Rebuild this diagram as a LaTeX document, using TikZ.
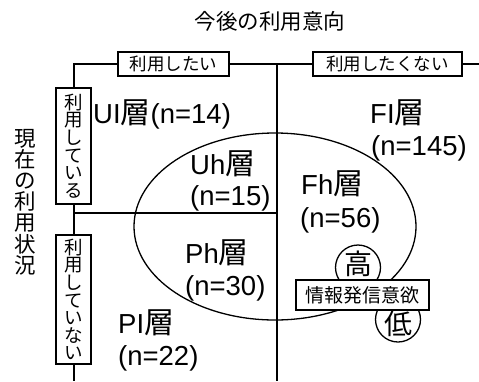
\documentclass[tikz,border=0pt]{standalone}
\usepackage{fontspec}
\setmainfont{Liberation Sans}
\newfontfamily\jpf{Noto Sans CJK JP}
\newcommand\J[1]{{\jpf\fontsize{30}{31}\selectfont #1}}
\begin{document}
\begin{tikzpicture}[x=1pt,y=-1pt,
  frame/.style={line width=2pt},
  lbox/.style={draw, line width=1.4pt, fill=white, inner sep=0pt, font=\jpf\fontsize{17.5}{18}\selectfont},
  vbox/.style={draw, line width=1.4pt, fill=white, inner sep=0pt, minimum width=35, align=center, font=\jpf\fontsize{18.5}{17.6}\selectfont},
  big/.style={anchor=base west, inner sep=0pt, font=\fontsize{27.5}{30}\selectfont},
  levelmark/.style={circle, draw, line width=1.3pt, fill=white, minimum size=45, inner sep=0pt},
  leveltext/.style={inner sep=0pt, font=\jpf\fontsize{28}{29}\selectfont}
]
\useasboundingbox (0,0) rectangle (479,381);
\node[font=\jpf\fontsize{21.5}{22}\selectfont] (title) at (270,21) {今後の利用意向};
% frame
\coordinate (corner) at (74,64);
\coordinate (topend) at (479,64);
\coordinate (leftend) at (74,381);
\coordinate (midtop) at (277,64);
\coordinate (midbot) at (277,381);
\coordinate (hleft) at (74,213);
\coordinate (hright) at (277,213);
\draw[frame] (topend) -- (corner) -- (leftend);
\draw[frame] (midtop) -- (midbot);
\draw[frame] (hleft) -- (hright);
% ellipse
\draw[line width=1.3pt] (275,226.5) ellipse [x radius=141, y radius=93.5];
% boxes
\node[lbox, minimum width=111, minimum height=24] (want) at (173.5,64) {利用したい};
\node[lbox, minimum width=149, minimum height=24] (nowant) at (387.5,64) {利用したくない};
\node[vbox, minimum height=116] (using) at (73.5,146) {利\\用\\し\\て\\い\\る};
\node[vbox, minimum height=129] (notusing) at (73.5,299.5) {利\\用\\し\\て\\い\\な\\い};
\node[align=center, inner sep=0pt, font=\jpf\fontsize{21.5}{21.2}\selectfont] (current) at (25,202) {現\\在\\の\\利\\用\\状\\況};
% labels
\node[big] (ui) at (93,123) {UI\J{層}(n=14)};
\node[big] (fi) at (370,123) {FI\J{層}};
\node[big] (fin) at (371,155) {(n=145)};
\node[big] (uh) at (190,174) {Uh\J{層}};
\node[big] (uhn) at (190,205) {(n=15)};
\node[big] (fh) at (301,194) {Fh\J{層}};
\node[big] (fhn) at (300,227) {(n=56)};
\node[big] (ph) at (185,263) {Ph\J{層}};
\node[big] (phn) at (185,295) {(n=30)};
\node[big] (pl) at (118,333) {PI\J{層}};
\node[big] (pln) at (118,365) {(n=22)};
% info box
\node[levelmark] (high) at (358,267.5) {};
\node[leveltext] (hightext) at ([yshift=4pt]high.center) {高};
\node[levelmark] (low) at (398,319.5) {};
\node[leveltext] (lowtext) at ([yshift=-4pt]low.center) {低};
\node[lbox, font=\jpf\fontsize{19}{20}\selectfont, minimum width=133, minimum height=30] (info) at (362.5,295) {情報発信意欲};
\end{tikzpicture}
\end{document}
